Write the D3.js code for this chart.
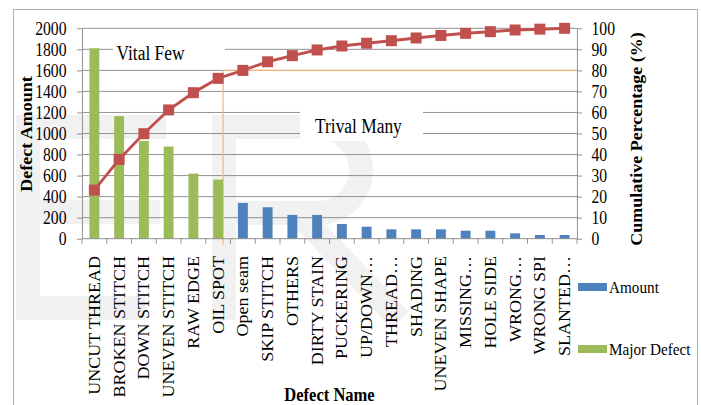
<!DOCTYPE html>
<html>
<head>
<meta charset="utf-8">
<script src="https://cdnjs.cloudflare.com/ajax/libs/d3/7.8.5/d3.min.js"></script>
<style>
  body { margin: 0; background: #fff; }
  svg { display: block; }
</style>
</head>
<body>
<div id="chart"></div>
<script>
// ---- data ----
var categories = ["UNCUT THREAD", "BROKEN STITCH", "DOWN STITCH", "UNEVEN STITCH", "RAW EDGE", "OIL SPOT",
    "Open seam", "SKIP STITCH", "OTHERS", "DIRTY STAIN", "PUCKERING", "UP/DOWN\u2026", "THREAD\u2026",
    "SHADING", "UNEVEN SHAPE", "MISSING\u2026", "HOLE SIDE", "WRONG\u2026", "WRONG SPI", "SLANTED\u2026"];
var majorDefect = [1810, 1165, 930, 876, 619, 562, null, null, null, null,
    null, null, null, null, null, null, null, null, null, null];
var amount = [null, null, null, null, null, null, 340, 299, 226, 226,
    140, 114, 89, 89, 89, 76, 76, 51, 35, 35];
var cumulative = [23.1, 37.7, 49.9, 61.2, 69.4, 76.2, 80.0, 84.1, 87.0, 89.7,
    91.6, 92.9, 94.1, 95.4, 96.6, 97.6, 98.4, 99.2, 99.6, 100];
var leftTicks = [0, 200, 400, 600, 800, 1000, 1200, 1400, 1600, 1800, 2000];
var rightTicks = [0, 10, 20, 30, 40, 50, 60, 70, 80, 90, 100];
var cutoff = 80;

var width = 701, height = 405;
var sx = 0.87;               // the original picture is squeezed sideways
function px(v) { return v / sx; }
var plot = { left: 82, right: 577, top: 28.3, bottom: 238.7 };
var font = "'Liberation Serif', 'Times New Roman', serif";
var gridColor = "#8a8a8a";

var svg = d3.select("#chart")
    .append("svg")
    .attr("width", width)
    .attr("height", height);

svg.append("rect").attr("width", width).attr("height", height).attr("fill", "#fff");

// faint watermark letters behind the chart
var wm = svg.append("g").attr("fill", "none").attr("stroke", "#f1f1f1").attr("stroke-width", 24);
wm.append("path").attr("d", "M28,116V320 M16,127H166 M16,212H160 M16,308H145");
wm.append("path").attr("d", "M224,116V320 M212,127H318 A43,43 0 0 1 318,213 H224 M298,213L400,320");

svg.append("rect")
    .attr("x", 13.5).attr("y", 9.5)
    .attr("width", 684).attr("height", 430)
    .attr("fill", "none").attr("stroke", "#b0b0b0");

var g = svg.append("g").attr("transform", "scale(" + sx + ",1)")
    .attr("font-family", font);

var x = d3.scaleBand()
    .domain(d3.range(categories.length))
    .range([px(plot.left), px(plot.right)])
    .paddingInner(0.6)
    .paddingOuter(0.3);

var y = d3.scaleLinear().domain([0, 2000]).range([plot.bottom, plot.top]);
var y2 = d3.scaleLinear().domain([0, 100]).range([plot.bottom, plot.top]);

// gridlines
g.append("g").selectAll("line")
    .data(leftTicks.slice(1))
    .enter().append("line")
    .attr("x1", px(plot.left)).attr("x2", px(plot.right))
    .attr("y1", d => y(d)).attr("y2", d => y(d))
    .attr("stroke", gridColor).attr("stroke-width", 1);

// label boxes (white background hides the gridlines)
g.append("rect").attr("x", px(113)).attr("y", 38).attr("width", px(112)).attr("height", 26).attr("fill", "#fff");
g.append("rect").attr("x", px(300)).attr("y", 106).attr("width", px(123)).attr("height", 35).attr("fill", "#fff");
g.append("text").attr("x", px(116.5)).attr("y", 60).attr("font-size", 20).text("Vital Few");
g.append("text").attr("x", px(315)).attr("y", 133).attr("font-size", 20).text("Trival Many");

// 80% cut-off lines
var cutX = x(5) + x.bandwidth();
g.append("line")
    .attr("x1", cutX).attr("x2", px(plot.right))
    .attr("y1", y2(cutoff)).attr("y2", y2(cutoff))
    .attr("stroke", "#f9b47a").attr("stroke-width", 1.2);
g.append("line")
    .attr("x1", cutX).attr("x2", cutX)
    .attr("y1", y2(cutoff)).attr("y2", plot.bottom + 6)
    .attr("stroke", "#f9b47a").attr("stroke-width", 1.4);

// bars
g.append("g").selectAll("rect")
    .data(majorDefect.map((v, i) => ({ v: v, i: i })).filter(d => d.v != null))
    .enter().append("rect")
    .attr("x", d => x(d.i))
    .attr("y", d => y(d.v))
    .attr("width", x.bandwidth())
    .attr("height", d => y(0) - y(d.v))
    .attr("fill", "#9bbb59");

g.append("g").selectAll("rect")
    .data(amount.map((v, i) => ({ v: v, i: i })).filter(d => d.v != null))
    .enter().append("rect")
    .attr("x", d => x(d.i))
    .attr("y", d => y(d.v))
    .attr("width", x.bandwidth())
    .attr("height", d => y(0) - y(d.v))
    .attr("fill", "#4f81bd");

// axes
function styleAxis(a) {
    a.select(".domain").attr("stroke", gridColor);
    a.selectAll(".tick line").attr("stroke", gridColor);
    a.selectAll("text").attr("font-size", 18).attr("font-family", font).attr("fill", "#000");
}

var yAxis = g.append("g")
    .attr("transform", "translate(" + px(plot.left) + ",0)")
    .call(d3.axisLeft(y).tickValues(leftTicks).tickFormat(d3.format("d"))
        .tickSizeInner(px(5)).tickSizeOuter(0).tickPadding(px(10.5)));
styleAxis(yAxis);

var y2Axis = g.append("g")
    .attr("transform", "translate(" + px(plot.right) + ",0)")
    .call(d3.axisRight(y2).tickValues(rightTicks).tickFormat(d3.format("d"))
        .tickSizeInner(px(5)).tickSizeOuter(0).tickPadding(px(9.5)));
styleAxis(y2Axis);

// x axis with ticks between categories
g.append("line")
    .attr("x1", px(plot.left)).attr("x2", px(plot.right))
    .attr("y1", plot.bottom).attr("y2", plot.bottom)
    .attr("stroke", gridColor);
g.append("g").selectAll("line")
    .data(d3.range(categories.length + 1))
    .enter().append("line")
    .attr("x1", i => px(plot.left) + i * x.step())
    .attr("x2", i => px(plot.left) + i * x.step())
    .attr("y1", plot.bottom).attr("y2", plot.bottom + 5)
    .attr("stroke", gridColor);

g.append("g").selectAll("text")
    .data(categories)
    .enter().append("text")
    .attr("transform", (d, i) => "translate(" + (x(i) + x.bandwidth() / 2) + ",256) rotate(-90)")
    .attr("text-anchor", "end")
    .attr("dy", "0.35em")
    .attr("font-size", 18)
    .text(d => d);

// cumulative line
var line = d3.line()
    .x((d, i) => x(i) + x.bandwidth() / 2)
    .y(d => y2(d));

g.append("path")
    .datum(cumulative)
    .attr("d", line)
    .attr("fill", "none")
    .attr("stroke", "#c0504d")
    .attr("stroke-width", 3);

var mk = 11;
g.append("g").selectAll("rect")
    .data(cumulative)
    .enter().append("rect")
    .attr("x", (d, i) => x(i) + x.bandwidth() / 2 - px(mk) / 2)
    .attr("y", d => y2(d) - mk / 2)
    .attr("width", px(mk))
    .attr("height", mk)
    .attr("fill", "#c0504d");

// axis titles
g.append("text")
    .attr("transform", "translate(" + px(27) + ",134) rotate(-90)")
    .attr("text-anchor", "middle").attr("dy", "0.35em")
    .attr("font-size", 18).attr("font-weight", "bold")
    .text("Defect Amount");
g.append("text")
    .attr("transform", "translate(" + px(637) + ",139) rotate(-90)")
    .attr("text-anchor", "middle").attr("dy", "0.35em")
    .attr("font-size", 18).attr("font-weight", "bold")
    .text("Cumulative Percentage (%)");
g.append("text")
    .attr("x", px(329.5)).attr("y", 401)
    .attr("text-anchor", "middle")
    .attr("font-size", 19).attr("font-weight", "bold")
    .text("Defect Name");

// legend
var legend = [{ name: "Amount", color: "#4f81bd", y: 287 }, { name: "Major Defect", color: "#9bbb59", y: 349 }];
var lg = g.append("g").selectAll("g").data(legend).enter().append("g");
lg.append("rect")
    .attr("x", px(578)).attr("y", d => d.y - 4)
    .attr("width", px(29)).attr("height", 8)
    .attr("fill", d => d.color);
lg.append("text")
    .attr("x", px(609)).attr("y", d => d.y + 6)
    .attr("font-size", 17.5)
    .text(d => d.name);
</script>
</body>
</html>
